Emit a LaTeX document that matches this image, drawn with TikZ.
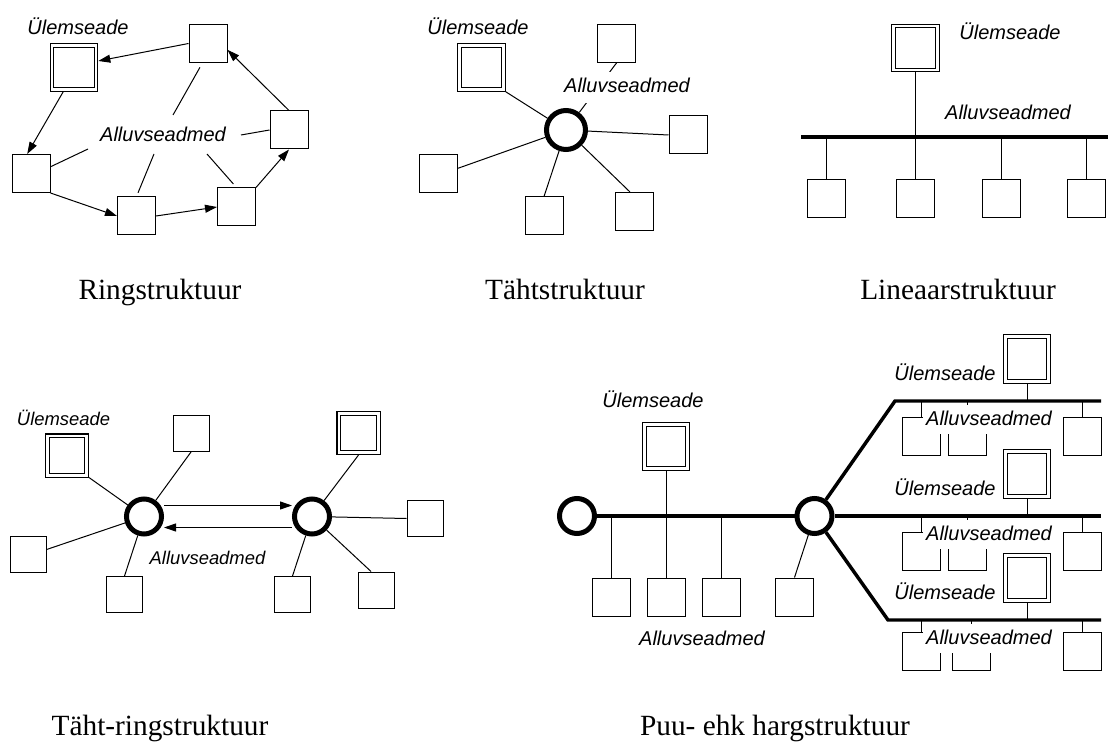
\documentclass[tikz,border=0pt]{standalone}
\usepackage{fontspec}
\setmainfont{Liberation Serif}
\setsansfont{Liberation Sans}
\usetikzlibrary{arrows.meta}
\begin{document}
\begin{tikzpicture}[x=0.75pt,y=-0.75pt,
  dev/.style={draw, line width=0.75pt, fill=white, minimum size=28.5pt, inner sep=0pt},
  mst/.style={draw, line width=0.8pt, double, double distance=1.9pt, minimum size=33pt, inner sep=0pt, outer sep=1.75pt},
  hub/.style={circle, draw, line width=3.75pt, fill=white, inner sep=0pt, minimum size=#1},
  bus/.style={line width=2.6pt},
  wire/.style={line width=0.75pt},
  link/.style={line width=0.75pt, -{Triangle[length=9pt,width=6pt]}},
  lbl/.style={font=\sffamily\itshape\fontsize{15}{18}\selectfont, inner sep=0pt, anchor=base},
  small lbl/.style={lbl, font=\sffamily\itshape\fontsize{13.8}{16}\selectfont},
  mask/.style={lbl, fill=white, text height=11pt, text depth=2.5pt, inner xsep=2.5pt, inner ysep=4pt},
  titletext/.style={font=\fontsize{22}{26}\selectfont, inner sep=0pt, anchor=base},
]
\useasboundingbox (0,0) rectangle (1110,745);

% ================= Ring =================
\node[lbl] (rU) at (78,35) {Ülemseade};
\node[mst] (rm) at (74,67.5) {};
\node[dev] (r1) at (208,43.5) {};
\node[dev] (r2) at (289,130) {};
\node[dev] (r3) at (236.5,207) {};
\node[dev] (r4) at (136.5,216) {};
\node[dev] (r6) at (31,173.5) {};
\draw[link] (r1.west) -- (rm.15);
\draw[link] (rm.246) -- (r6.101);
\draw[link] (r6.south east) -- (r4.west);
\draw[link] (r4.east) -- (r3.west);
\draw[link] (r3.north east) -- (r2.south);
\draw[link] (r2.north) -- (r1.342);
\node[lbl] (rA) at (163,142) {Alluvseadmed};
\coordinate (ra1) at (173,115);
\coordinate (ra2) at (241,135);
\coordinate (ra3) at (207,154);
\coordinate (ra4) at (154,154);
\coordinate (ra6) at (88,149);
\draw[wire, shorten <=3.75pt] (r1.254) -- (ra1);
\draw[wire] (r2.west) -- (ra2);
\draw[wire, shorten <=3.5pt] (r3.north) -- (ra3);
\draw[wire, shorten <=3pt] (r4.north) -- (ra4);
\draw[wire] (r6.19) -- (ra6);
\node[titletext] (rC) at (160,300) {Ringstruktuur};

% ================= Star =================
\node[lbl] (sU) at (478,35) {Ülemseade};
\node[mst] (sm) at (481.5,67.5) {};
\node[dev] (st) at (616.5,43.5) {};
\node[dev] (sl) at (438.5,173.5) {};
\node[dev] (sr) at (688,135) {};
\node[dev] (sb) at (544,216) {};
\node[dev] (sbr) at (634.5,211.5) {};
\node[hub=29.25pt] (sh) at (566,130) {};
\draw[wire] (st.south) -- (sh);
\draw[wire] (sm.south east) -- (sh);
\draw[wire] (sl.15) -- (sh);
\draw[wire] (sb.north) -- (sh);
\draw[wire] (sbr.103) -- (sh);
\draw[wire] (sr.west) -- (sh);
\node[mask, text depth=2.75pt, inner ysep=4.75pt] (sA) at (627,93) {Alluvseadmed};
\node[titletext] (sC) at (565,300) {Tähtstruktuur};

% ================= Linear =================
\node[lbl] (lU) at (1010,40) {Ülemseade};
\node[mst] (lm) at (915.5,48) {};
\node[lbl] (lA) at (1008,120) {Alluvseadmed};
\coordinate (lbL) at (801,137);
\coordinate (lbR) at (1108,137);
\draw[bus] (lbL) -- (lbR);
\foreach \i/\x in {1/826.5,2/915.5,3/1001,4/1086}
  \node[dev] (lb\i) at (\x,199) {};
\draw[wire] (lm.south) -- (lb2.north);
\foreach \i in {1,3,4}
  \draw[wire] (lb\i.north) -- (lb\i.north |- lbL);
\node[titletext] (lC) at (958,300) {Lineaarstruktuur};

% ================= Star-ring =================
\begin{scope}[dev/.append style={minimum size=27pt},
              mst/.append style={minimum size=29.6pt}]
\node[small lbl] (xU) at (63.5,425) {Ülemseade};
\node[mst] (xm1) at (67,455.5) {};
\node[dev] (xt1) at (191,433.5) {};
\node[dev] (xl) at (28,554.5) {};
\node[dev] (xb1) at (124.5,594.5) {};
\node[hub=26.25pt] (xc1) at (144,516.5) {};
\node[hub=26.25pt] (xc2) at (312,516.5) {};
\node[mst] (xm2) at (358.5,433) {};
\node[dev] (xr) at (425,518.5) {};
\node[dev] (xb2) at (292.5,594.5) {};
\node[dev] (xbr) at (376,590) {};
\draw[wire] (xm1.south east) -- (xc1);
\draw[wire] (xt1.south) -- (xc1);
\draw[wire] (xl.15) -- (xc1);
\draw[wire] (xb1.north) -- (xc1);
\draw[wire] (xm2.south) -- (xc2);
\draw[wire] (xr.west) -- (xc2);
\draw[wire] (xb2.north) -- (xc2);
\draw[wire] (xbr.105) -- (xc2);
\draw[link] ([yshift=8.25pt]xc1.east) -- ([yshift=8.25pt]xc2.west);
\draw[link] ([yshift=-8.25pt]xc2.west) -- ([yshift=-8.25pt]xc1.east);
\node[small lbl] (xA) at (207.5,564) {Alluvseadmed};
\end{scope}
\node[titletext] (xC) at (160,735) {Täht-ringstruktuur};

% ================= Tree =================
\node[lbl] (tU) at (653,407) {Ülemseade};
\node[mst, minimum width=32pt, minimum height=33pt] (tm) at (666,446.5) {};
\node[hub=26.25pt] (tc1) at (577,516) {};
\node[hub=26.25pt] (tc2) at (814.5,516) {};
\draw[bus] (tc1) -- (tc2);
\foreach \i/\x in {1/611.5,2/666,3/721.5,4/794.5}
  \node[dev] (tb\i) at (\x,597) {};
\draw[wire] (tm.south) -- (tb2.north);
\foreach \i in {1,3}
  \draw[wire] (tb\i.north) -- (tb\i.north |- tc1);
\draw[wire] (tb4.north) -- (tc2);
\node[lbl] (tA) at (702,645) {Alluvseadmed};

% branches
\coordinate (ka) at (895,401);  \coordinate (kae) at (1101,401);
\coordinate (kbe) at (1101,516);
\coordinate (kc) at (888,620);  \coordinate (kce) at (1101,620);
\draw[bus] (tc2) -- (ka) -- (kae);
\draw[bus] (tc2) -- (kbe);
\draw[bus] (tc2) -- (kc) -- (kce);

\foreach \n/\B/\o/\bx in {a/401/35.5/967.5, b/516/35.5/967.5, c/620/31.5/971.5}{
  \coordinate (k\n) at (1027,\B);
  \node[mst, minimum width=32pt, minimum height=34pt] (m\n) at (1027,\B-42) {};
  \draw[wire] (m\n.south) -- (k\n);
  \node[dev] (p\n) at (921.5,\B+\o) {};
  \node[dev] (q\n) at (\bx,\B+\o) {};
  \node[dev] (s\n) at (1082,\B+\o) {};
  \draw[wire] (p\n.north) -- (p\n.north |- k\n);
  \draw[wire] (q\n.north) -- (q\n.north |- k\n);
  \draw[wire] (s\n.north) -- (s\n.north |- k\n);
  \node[lbl] (u\n) at (945,\B-21) {Ülemseade};
  \node[mask] (v\n) at (989,\B+24) {Alluvseadmed};
}
\node[titletext] (tC) at (775,735) {Puu- ehk hargstruktuur};
\end{tikzpicture}
\end{document}
